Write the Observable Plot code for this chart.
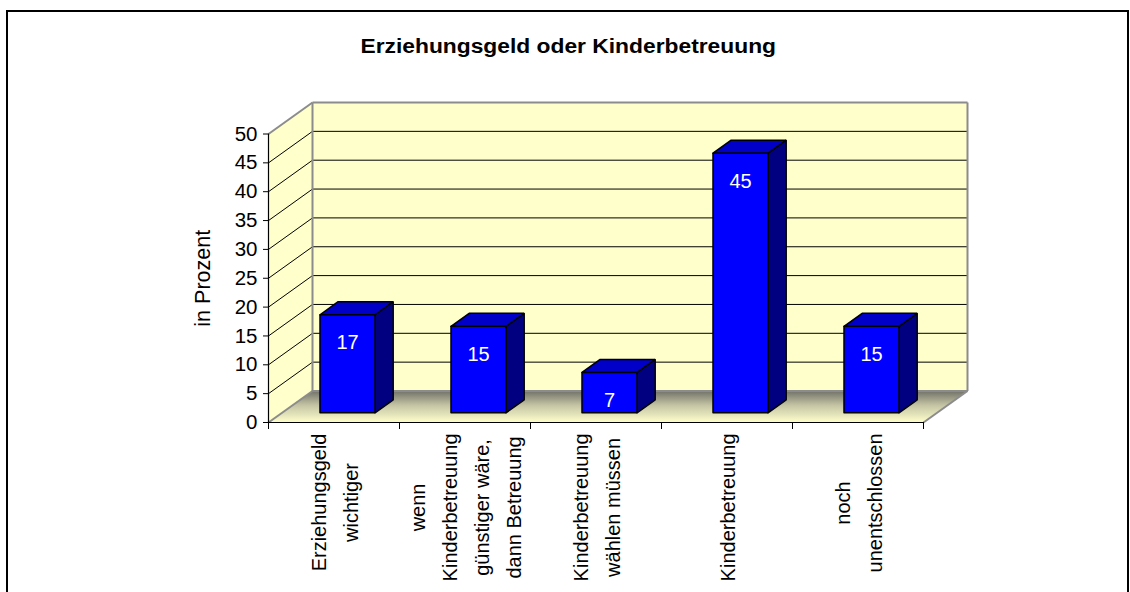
<!DOCTYPE html>
<html><head><meta charset="utf-8">
<script src="https://cdn.jsdelivr.net/npm/d3@7"></script>
<script src="https://cdn.jsdelivr.net/npm/@observablehq/plot@0.6"></script>
<style>
body{margin:0;background:#fff;font-family:"Liberation Sans",Arial,sans-serif;}
#frame{position:absolute;left:6px;top:10px;width:1123px;height:620px;border:2px solid #000;box-sizing:border-box;}
#title{position:absolute;left:0;width:1136px;top:36px;text-align:center;font-weight:bold;font-size:20px;line-height:20px;color:#000;}
#title span{display:inline-block;transform:scaleX(1.14);}
#chart{position:absolute;left:0;top:0;}
</style></head><body>
<div id="frame"></div>
<div id="title"><span></span></div>
<div id="chart"></div>
<script>
// ---- data ----
const titleText = "Erziehungsgeld oder Kinderbetreuung";
const yLabel = "in Prozent";
const categories = [
  "Erziehungsgeld\nwichtiger",
  "wenn\nKinderbetreuung\ngünstiger wäre,\ndann Betreuung",
  "Kinderbetreuung\nwählen müssen",
  "Kinderbetreuung",
  "noch\nunentschlossen"
];
const values = [17, 15, 7, 45, 15];
const yTicks = [0, 5, 10, 15, 20, 25, 30, 35, 40, 45, 50];
const gridValues = [5, 10, 15, 20, 25, 30, 35, 40, 45];

document.querySelector("#title span").textContent = titleText;

// ---- 3D projection (depth 0 = front, 1 = back wall) ----
const DX = 44 / 131;      // x units per full depth
const DY = 31.5 / 5.77;   // y units per full depth
const P = (x, y, d) => ({x: x + d * DX, y: y + d * DY});
const f0 = 0.307, f1 = 0.72;  // bar front / back depth
const bw = 0.42;              // bar width in band units
const n = categories.length;
const yMax = yTicks[yTicks.length - 1];

const poly = (id, pts) => [...pts, pts[0]].map(p => ({...p, id}));

const leftWall = poly("lw", [P(0,0,0), P(0,yMax,0), P(0,yMax,1), P(0,0,1)]);
const backWall = poly("bw", [P(0,0,1), P(0,yMax,1), P(n,yMax,1), P(n,0,1)]);
const floor = poly("fl", [P(0,0,0), P(n,0,0), P(n,0,1), P(0,0,1)]);

const backGrid = gridValues.map(v => ({a: P(0,v,1), b: P(n,v,1)}));
const sideGrid = gridValues.map(v => ({a: P(0,v,0), b: P(0,v,1)}));
const edges = [
  {a: P(0,0,1), b: P(0,yMax,1)},
  {a: P(0,yMax,1), b: P(n,yMax,1)},
  {a: P(n,yMax,1), b: P(n,0,1)},
  {a: P(0,yMax,0), b: P(0,yMax,1)},
  {a: P(0,0,0), b: P(0,0,1)},
  {a: P(n,0,0), b: P(n,0,1)},
  {a: P(0,0,1), b: P(n,0,1)}
];

const fronts = [], tops = [], sides = [];
values.forEach((v, i) => {
  const x1 = i + 0.5 - bw / 2, x2 = i + 0.5 + bw / 2;
  fronts.push(...poly("f" + i, [P(x1,0,f0), P(x2,0,f0), P(x2,v,f0), P(x1,v,f0)]));
  tops.push(...poly("t" + i, [P(x1,v,f0), P(x2,v,f0), P(x2,v,f1), P(x1,v,f1)]));
  sides.push(...poly("s" + i, [P(x2,0,f0), P(x2,0,f1), P(x2,v,f1), P(x2,v,f0)]));
});
const barLabels = values.map((v, i) => ({...P(i + 0.5, v, f0), v}));

// text measurement for category label alignment
const ctx = document.createElement("canvas").getContext("2d");
ctx.font = "20px 'Liberation Sans'";
const catMarks = categories.map((c, i) => {
  const w = d3.max(c.split("\n"), s => ctx.measureText(s).width);
  return Plot.text([c], {
    x: () => i + 0.5, y: () => 0, text: d => d,
    rotate: -90, textAnchor: "middle", lineAnchor: "middle",
    lineHeight: 1.6, fontSize: 20, fill: "#000", dx: -2, dy: 11 + w / 2
  });
});

const defs = () => {
  const d = d3.create("svg:defs");
  const g = d.append("svg:linearGradient").attr("id", "floorGrad")
    .attr("x1", 0).attr("y1", 0).attr("x2", 0).attr("y2", 1);
  [[0, "#727268"], [0.45, "#c4c4a4"], [1, "#ffffcc"]].forEach(([o, c]) =>
    g.append("svg:stop").attr("offset", o).attr("stop-color", c));
  return d.node();
};

const link = (data, opts) => Plot.link(data, {
  x1: d => d.a.x, y1: d => d.a.y, x2: d => d.b.x, y2: d => d.b.y, ...opts
});
const shape = (data, opts) => Plot.line(data, {x: "x", y: "y", z: "id", strokeLinejoin: "miter", ...opts});

const chart = Plot.plot({
  width: 1130, height: 592,
  marginLeft: 268, marginRight: 207, marginTop: 133.5, marginBottom: 170,
  style: {fontFamily: "'Liberation Sans', Arial, sans-serif", fontSize: "20px", background: "transparent", overflow: "visible"},
  x: {type: "linear", domain: [0, n]},
  y: {type: "linear", domain: [0, yMax]},
  marks: [
    defs,
    shape(leftWall, {fill: "#ffffcc", stroke: "none"}),
    shape(backWall, {fill: "#ffffcc", stroke: "none"}),
    shape(floor, {fill: "url(#floorGrad)", stroke: "none"}),
    link(backGrid, {stroke: "#000", strokeWidth: 1}),
    link(sideGrid, {stroke: "#000", strokeWidth: 1}),
    link(edges, {stroke: "#8c8c8c", strokeWidth: 2}),
    shape(sides, {fill: "#000080", stroke: "#000", strokeWidth: 1.5}),
    shape(tops, {fill: "#0000c8", stroke: "#000", strokeWidth: 1.5}),
    shape(fronts, {fill: "#0000ff", stroke: "#000", strokeWidth: 1.5}),
    Plot.text(barLabels, {x: "x", y: "y", text: d => String(d.v), fill: "white", fontSize: 20, dy: 28}),
    Plot.ruleX([0], {y1: 0, y2: yMax, stroke: "#000", strokeWidth: 1.2}),
    Plot.ruleY([0], {x1: 0, x2: n, stroke: "#000", strokeWidth: 1.2}),
    Plot.axisY({ticks: yTicks, tickSize: 5, tickPadding: 6, fontSize: 20.5, label: null, stroke: "#000", fill: "#000"}),
    Plot.axisX({ticks: d3.range(n + 1), tickSize: 7, tickFormat: () => "", label: null, stroke: "#000"}),
    ...catMarks,
    Plot.text([yLabel], {text: d => d, frameAnchor: "left", rotate: -90, textAnchor: "middle", dx: -65, fontSize: 21.5, fill: "#000"})
  ]
});
document.getElementById("chart").appendChild(chart);
</script>
</body></html>
